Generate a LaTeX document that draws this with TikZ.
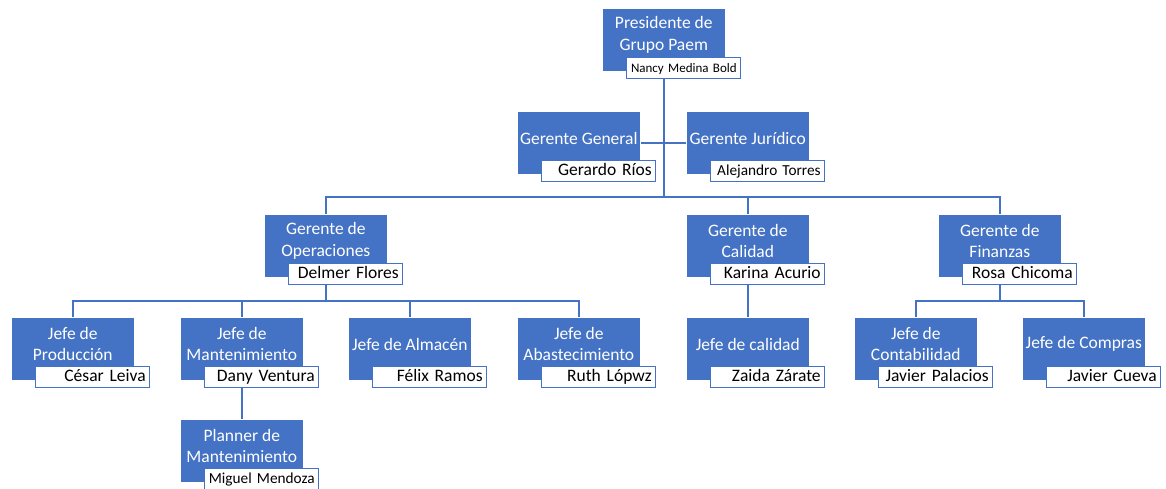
\documentclass[tikz,border=0pt]{standalone}
\usepackage{fontspec}
\setmainfont{Carlito}
\usetikzlibrary{backgrounds,calc}
\definecolor{ob}{HTML}{4472C4}
\tikzset{
 bluebox/.style={fill=ob, draw=white, line width=0.6pt, minimum width=123pt, minimum height=63pt, inner sep=0pt, anchor=north west},
 titletext/.style={text=white, align=center, font=\fontsize{17.5}{21.5}\selectfont, inner sep=0pt},
 namebox/.style={fill=white, draw=ob, line width=1.4pt, minimum height=21pt, minimum width=114pt, text width=106pt, align=right, inner xsep=4pt, inner ysep=0pt, text height=11pt, text depth=2.5pt, anchor=north west, font=\fontsize{17.5}{20}\selectfont},
 conn/.style={draw=ob, line width=2pt},
}
\newcommand\orgunit[6]{%
 \node[bluebox] (#1) at (#2,#3) {};
 \node[titletext] (#1t) at ($(#1.north)+(0,27)$) {#4};
 \node[namebox,#6] (#1n) at ($(#1.north west)+(24,49)$) {\mbox{#5}};
}
\begin{document}
\begin{tikzpicture}[x=1pt,y=-1pt]
\useasboundingbox (0,0) rectangle (1166,488);
\orgunit{pres}{602}{8}{Presidente de\\Grupo Paem}{Nancy Medina Bold}{font=\fontsize{13}{16}\selectfont}
\orgunit{gg}{517}{111}{Gerente General}{Gerardo Ríos}{}
\orgunit{gj}{686}{111}{Gerente Jurídico}{Alejandro Torres}{font=\fontsize{15.3}{18}\selectfont}
\orgunit{gop}{264}{214}{Gerente de\\Operaciones}{Delmer Flores}{}
\orgunit{gcal}{686}{214}{Gerente de\\Calidad}{Karina Acurio}{}
\orgunit{gfin}{938}{214}{Gerente de\\Finanzas}{Rosa Chicoma}{}
\orgunit{j1}{11}{317}{Jefe de\\Producción}{César Leiva}{}
\orgunit{j2}{180}{317}{Jefe de\\Mantenimiento}{Dany Ventura}{}
\orgunit{j3}{348}{317}{Jefe de Almacén}{Félix Ramos}{}
\orgunit{j4}{517}{317}{Jefe de\\Abastecimiento}{Ruth Lópwz}{}
\orgunit{jcal}{686}{317}{Jefe de calidad}{Zaida Zárate}{}
\orgunit{jcont}{854}{317}{Jefe de\\Contabilidad}{Javier Palacios}{}
\orgunit{jcomp}{1022}{317}{Jefe de Compras}{Javier Cueva}{}
\orgunit{pl}{180}{419}{Planner de\\Mantenimiento}{Miguel Mendoza}{font=\fontsize{15.3}{18}\selectfont}
\begin{scope}[on background layer]
 \coordinate (bar) at (pres.center |- 0,197);
 \coordinate (opsbar) at (gop.center |- 0,301);
 \coordinate (finbar) at (gfin.center |- 0,301);
 \draw[conn] (pres.center) -- (bar);
 \draw[conn] (gg.center) -- (gj.center);
 \draw[conn] (gop.center) |- (bar) -| (gfin.center);
 \draw[conn] (gcal.center) -- (gcal.center |- bar);
 \draw[conn] (gop.center) -- (opsbar);
 \draw[conn] (j1.center) |- (opsbar) -| (j4.center);
 \draw[conn] (j2.center) -- (j2.center |- opsbar);
 \draw[conn] (j3.center) -- (j3.center |- opsbar);
 \draw[conn] (j2.center) -- (pl.center);
 \draw[conn] (gcal.center) -- (jcal.center);
 \draw[conn] (gfin.center) -- (finbar);
 \draw[conn] (jcont.center) |- (finbar) -| (jcomp.center);
\end{scope}
\end{tikzpicture}
\end{document}
